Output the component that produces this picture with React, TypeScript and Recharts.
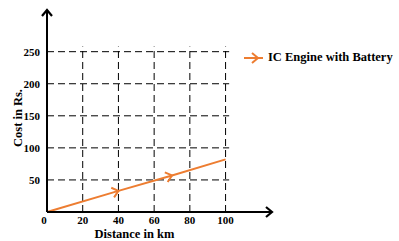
import { LineChart, Line, XAxis, YAxis, ReferenceLine, ReferenceDot } from "recharts";

const distance = [0, 40, 70, 100];
const cost = [0, 33, 57, 82];
const xTicks = [0, 20, 40, 60, 80, 100];
const yTicks = [50, 100, 150, 200, 250];
const seriesName = "IC Engine with Battery";

const ORANGE = "#ED7D31";
const FONT = "'Liberation Serif', 'DejaVu Serif', serif";

const data = distance.map((d, i) => ({ distance: d, cost: cost[i] }));

// direction of the line on screen, used to turn the mid-line arrowheads
const lineAngle = -16.5;

function ArrowDot(props: any) {
  const { cx, cy, index } = props;
  if (index !== 1 && index !== 2) return <g key={index} />;
  return (
    <path
      key={index}
      d="M -6 -5 L 0 0 L -6 5"
      transform={`translate(${cx},${cy}) rotate(${lineAngle})`}
      stroke={ORANGE}
      strokeWidth={2}
      fill="none"
    />
  );
}

function XTick(props: any) {
  const { x, y, payload } = props;
  const dx = payload.value === 0 ? -3 : 0;
  return (
    <text x={x + dx} y={y + 4} textAnchor="middle" fontFamily={FONT} fontWeight="bold" fontSize={11} fill="#000">
      {payload.value}
    </text>
  );
}

function YTick(props: any) {
  const { x, y, payload } = props;
  return (
    <text x={x + 1} y={y + 4} textAnchor="end" fontFamily={FONT} fontWeight="bold" fontSize={11} fill="#000">
      {payload.value}
    </text>
  );
}

function LegendBox() {
  return (
    <div
      style={{
        position: "absolute",
        left: 243,
        top: 50,
        display: "flex",
        alignItems: "center",
        fontFamily: FONT,
        fontWeight: "bold",
        fontSize: 12.5,
        color: "#000",
        whiteSpace: "nowrap",
      }}
    >
      <svg width={22} height={12} style={{ marginRight: 3 }}>
        <line x1={1} y1={6} x2={20} y2={6} stroke={ORANGE} strokeWidth={2} />
        <path d="M 9 1 L 15 6 L 9 11" stroke={ORANGE} strokeWidth={2} fill="none" />
      </svg>
      <span>{seriesName}</span>
    </div>
  );
}

const arrowHead = (dir: "up" | "right") => (props: any) => {
  const { cx, cy } = props;
  const d = dir === "up" ? "M -5 6 L 0 0 L 5 6" : "M -6 -5 L 0 0 L -6 5";
  return <path d={d} transform={`translate(${cx},${cy})`} stroke="#000" strokeWidth={2.2} fill="none" />;
};

export default function App() {
  return (
    <div style={{ position: "fixed", left: 0, top: 0, width: 399, height: 241, background: "#fff" }}>
      <LineChart width={399} height={241} data={data} margin={{ top: 10, right: 127, bottom: 0, left: 0 }}>
        <XAxis
          dataKey="distance"
          type="number"
          domain={[0, 126]}
          ticks={xTicks}
          tick={<XTick />}
          tickLine={false}
          axisLine={{ stroke: "#000", strokeWidth: 2 }}
          height={29}
          label={{ value: "Distance in km", position: "insideBottom", offset: 3, dx: -25, fontFamily: FONT, fontWeight: "bold", fontSize: 12.5, fill: "#000" } as any}
        />
        <YAxis
          type="number"
          domain={[0, 315]}
          ticks={yTicks}
          tick={<YTick />}
          tickLine={false}
          axisLine={{ stroke: "#000", strokeWidth: 2 }}
          width={47}
          label={{ value: "Cost in Rs.", angle: -90, position: "insideLeft", offset: 18, dy: 36, fontFamily: FONT, fontWeight: "bold", fontSize: 12.5, fill: "#000" } as any}
        />
        {yTicks.map((v) => (
          <ReferenceLine key={"h" + v} segment={[{ x: 0, y: v }, { x: 102, y: v }]} stroke="#000" strokeWidth={1} strokeDasharray="7 4" />
        ))}
        {xTicks.slice(1).map((v) => (
          <ReferenceLine key={"v" + v} segment={[{ x: v, y: 0 }, { x: v, y: 258 }]} stroke="#000" strokeWidth={1} strokeDasharray="7 4" />
        ))}
        <ReferenceDot x={126} y={0} r={0} shape={arrowHead("right")} ifOverflow="visible" />
        <ReferenceDot x={0} y={315} r={0} shape={arrowHead("up")} ifOverflow="visible" />
        <Line
          dataKey="cost"
          name={seriesName}
          stroke={ORANGE}
          strokeWidth={2}
          dot={<ArrowDot />}
          activeDot={false}
          isAnimationActive={false}
        />
      </LineChart>
      <LegendBox />
    </div>
  );
}
